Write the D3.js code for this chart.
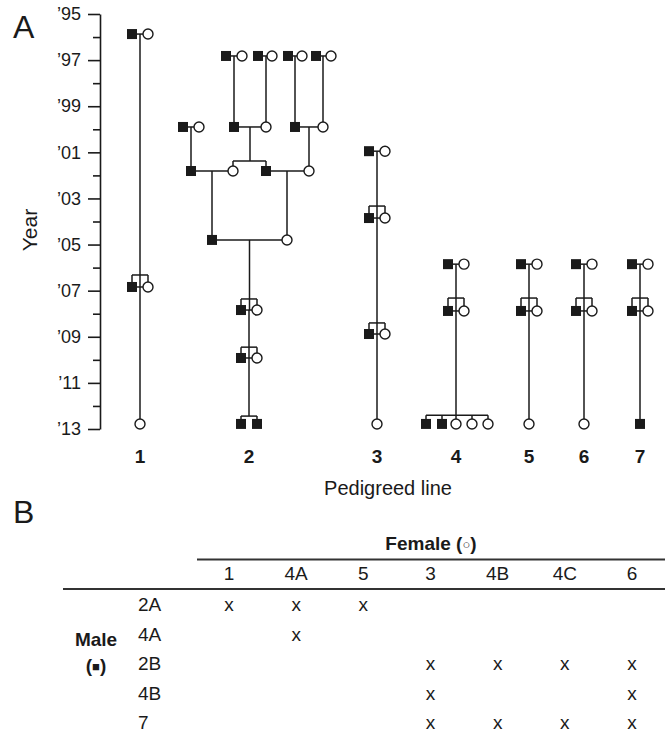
<!DOCTYPE html>
<html><head><meta charset="utf-8">
<script src="https://cdn.jsdelivr.net/npm/d3@7"></script>
<style>body{margin:0;background:#fff}svg{display:block;font-family:"Liberation Sans",Arial,Helvetica,sans-serif}</style>
</head><body><svg id="c" width="672" height="735"></svg>
<script>
// ---------- DATA ----------
const pedigreeLines = ["1","2","3","4","5","6","7"];
const lineCentres = [40,149,277,356,429,484,540]; // horizontal layout units
const majorYears = [1995,1997,1999,2001,2003,2005,2007,2009,2011,2013];
const majorLabels = ["’95","’97","’99","’01","’03","’05","’07","’09","’11","’13"];
const minorYears = [1996,1998,2000,2002,2004,2006,2008,2010,2012];

// [id, pedigree line, sex, offset from line centre (layout units), year]
const individuals = [
  ["1a","1","M",-8,1995.87],["1b","1","F",8,1995.87],
  ["1c","1","M",-8,2006.84],["1d","1","F",8,2006.84],
  ["1e","1","F",0,2012.78],
  ["2a","2","M",-23,1996.82],["2b","2","F",-7,1996.82],
  ["2c","2","M",9,1996.82],["2d","2","F",23,1996.82],
  ["2e","2","M",39,1996.82],["2f","2","F",53,1996.82],
  ["2g","2","M",67,1996.82],["2h","2","F",82,1996.82],
  ["2i","2","M",-66,1999.9],["2j","2","F",-50,1999.9],
  ["2k","2","M",-15,1999.9],["2l","2","F",17,1999.9],
  ["2m","2","M",46,1999.9],["2n","2","F",74,1999.9],
  ["2o","2","M",-58,2001.81],["2p","2","F",-16,2001.81],
  ["2q","2","M",17,2001.81],["2r","2","F",60,2001.81],
  ["2s","2","M",-37,2004.8],["2t","2","F",38,2004.8],
  ["2u","2","M",-8,2007.84],["2v","2","F",8,2007.84],
  ["2w","2","M",-8,2009.92],["2x","2","F",8,2009.92],
  ["2y","2","M",-8,2012.78],["2z","2","M",8,2012.78],
  ["3a","3","M",-8,2000.95],["3b","3","F",8,2000.95],
  ["3c","3","M",-8,2003.85],["3d","3","F",8,2003.85],
  ["3e","3","M",-8,2008.88],["3f","3","F",8,2008.88],
  ["3g","3","F",0,2012.78],
  ["4a","4","M",-8,2005.85],["4b","4","F",8,2005.85],
  ["4c","4","M",-8,2007.88],["4d","4","F",8,2007.88],
  ["4e","4","M",-30,2012.78],["4f","4","M",-14,2012.78],["4g","4","F",0,2012.78],
  ["4h","4","F",16,2012.78],["4i","4","F",32,2012.78],
  ["5a","5","M",-8,2005.85],["5b","5","F",8,2005.85],
  ["5c","5","M",-8,2007.88],["5d","5","F",8,2007.88],
  ["5e","5","F",0,2012.78],
  ["6a","6","M",-8,2005.85],["6b","6","F",8,2005.85],
  ["6c","6","M",-8,2007.88],["6d","6","F",8,2007.88],
  ["6e","6","F",0,2012.78],
  ["7a","7","M",-8,2005.85],["7b","7","F",8,2005.85],
  ["7c","7","M",-8,2007.88],["7d","7","F",8,2007.88],
  ["7e","7","M",0,2012.78]
];
const matings = [
  ["1a","1b"],["1c","1d"],
  ["2a","2b"],["2c","2d"],["2e","2f"],["2g","2h"],["2i","2j"],["2k","2l"],["2m","2n"],
  ["2o","2p"],["2q","2r"],["2s","2t"],["2u","2v"],["2w","2x"],
  ["3a","3b"],["3c","3d"],["3e","3f"],
  ["4a","4b"],["4c","4d"],["5a","5b"],["5c","5d"],["6a","6b"],["6c","6d"],["7a","7b"],["7c","7d"]
];
// parents -> children, optional sibship-line year
const descents = [
  {p:["1a","1b"], c:["1c","1d"], sib:2006.32},
  {p:["1c","1d"], c:["1e"]},
  {p:["2a","2b"], c:["2k"]},{p:["2c","2d"], c:["2l"]},{p:["2e","2f"], c:["2m"]},{p:["2g","2h"], c:["2n"]},
  {p:["2i","2j"], c:["2o"]},
  {p:["2k","2l"], c:["2p","2q"], sib:2001.38},
  {p:["2m","2n"], c:["2r"]},
  {p:["2o","2p"], c:["2s"]},{p:["2q","2r"], c:["2t"]},
  {p:["2s","2t"], c:["2u","2v"], sib:2007.36},
  {p:["2u","2v"], c:["2w","2x"], sib:2009.45},
  {p:["2w","2x"], c:["2y","2z"], sib:2012.44},
  {p:["3a","3b"], c:["3c","3d"], sib:2003.33},
  {p:["3c","3d"], c:["3e","3f"], sib:2008.4},
  {p:["3e","3f"], c:["3g"]},
  {p:["4a","4b"], c:["4c","4d"], sib:2007.32},
  {p:["4c","4d"], c:["4e","4f","4g","4h","4i"], sib:2012.4},
  {p:["5a","5b"], c:["5c","5d"], sib:2007.32},{p:["5c","5d"], c:["5e"]},
  {p:["6a","6b"], c:["6c","6d"], sib:2007.32},{p:["6c","6d"], c:["6e"]},
  {p:["7a","7b"], c:["7c","7d"], sib:2007.32},{p:["7c","7d"], c:["7e"]}
];

// Table B
const femaleCols = ["1","4A","5","3","4B","4C","6"];
const maleRows = ["2A","4A","2B","4B","7"];
const crosses = [
  [1,1,1,0,0,0,0],
  [0,1,0,0,0,0,0],
  [0,0,0,1,1,1,1],
  [0,0,0,1,0,0,1],
  [0,0,0,1,1,1,1]
];

// ---------- DRAW ----------
const svg = d3.select("#c");
const ink = "#1a1a1a";
const x = d3.scaleLinear().domain([0,560]).range([100,660]);
const y = d3.scaleLinear().domain([1995,2013]).range([14,429]);

// panel letters
svg.append("text").attr("x",13).attr("y",38).attr("font-size",32).attr("fill",ink).text("A");
svg.append("text").attr("x",13).attr("y",523).attr("font-size",32).attr("fill",ink).text("B");

// y axis
const gMaj = svg.append("g").attr("transform","translate(100,0)")
  .call(d3.axisLeft(y).tickValues(majorYears).tickSize(12).tickSizeOuter(0).tickPadding(7)
        .tickFormat((d,i)=>majorLabels[i]));
const gMin = svg.append("g").attr("transform","translate(100,0)")
  .call(d3.axisLeft(y).tickValues(minorYears).tickSize(7).tickSizeOuter(0).tickFormat(""));
gMin.select(".domain").remove();
[gMaj,gMin].forEach(g=>{
  g.selectAll("path,line").attr("stroke",ink).attr("stroke-width",1.6);
  g.selectAll("text").attr("font-size",18).attr("fill",ink).attr("font-family","Liberation Sans, Arial, sans-serif");
});
svg.append("text").attr("transform","translate(37,230) rotate(-90)").attr("text-anchor","middle")
  .attr("font-size",21).attr("fill",ink).text("Year");

// x labels
svg.append("g").selectAll("text").data(pedigreeLines).join("text")
  .attr("x",(d,i)=>x(lineCentres[i])).attr("y",463).attr("text-anchor","middle")
  .attr("font-size",19).attr("font-weight","bold").attr("fill",ink).text(d=>d);
svg.append("text").attr("x",388).attr("y",495).attr("text-anchor","middle")
  .attr("font-size",20).attr("fill",ink).text("Pedigreed line");

// pedigree geometry
const byId = new Map(individuals.map(d=>[d[0],{id:d[0],sex:d[2],
  x:x(lineCentres[pedigreeLines.indexOf(d[1])]+d[3]), y:y(d[4])}]));
const isMated=(a,b)=>matings.some(m=>(m[0]===a&&m[1]===b)||(m[0]===b&&m[1]===a));
const segs=[];
matings.forEach(([a,b])=>{const A=byId.get(a),B=byId.get(b);segs.push([A.x,A.y,B.x,B.y]);});
descents.forEach(d=>{
  const P=d.p.map(id=>byId.get(id)), C=d.c.map(id=>byId.get(id));
  const mx=(P[0].x+P[1].x)/2, py=P[0].y;
  if(d.sib==null){ segs.push([C[0].x,py,C[0].x,C[0].y]); }
  else{
    const sy=y(d.sib);
    const through=C.length===2&&isMated(d.c[0],d.c[1]);
    segs.push([mx,py,mx,through?C[0].y:sy]);
    const xs=C.map(c=>c.x).concat([mx]);
    segs.push([d3.min(xs),sy,d3.max(xs),sy]);
    C.forEach(c=>segs.push([c.x,sy,c.x,c.y]));
  }
});
svg.append("g").selectAll("line").data(segs).join("line")
  .attr("x1",d=>d[0]).attr("y1",d=>d[1]).attr("x2",d=>d[2]).attr("y2",d=>d[3])
  .attr("stroke",ink).attr("stroke-width",1.5);
const people=[...byId.values()];
svg.append("g").selectAll("rect").data(people.filter(p=>p.sex==="M")).join("rect")
  .attr("x",d=>d.x-5).attr("y",d=>d.y-5).attr("width",10).attr("height",10).attr("fill",ink);
svg.append("g").selectAll("circle").data(people.filter(p=>p.sex==="F")).join("circle")
  .attr("cx",d=>d.x).attr("cy",d=>d.y).attr("r",5).attr("fill","#fff").attr("stroke",ink).attr("stroke-width",1.4);

// ---------- TABLE ----------
const cx = d3.scalePoint().domain(femaleCols).range([229,632]);
const ry = d3.scalePoint().domain(maleRows).range([611,729]);
const t = svg.append("g").attr("fill",ink).attr("font-size",19);
const fh = t.append("text").attr("x",431).attr("y",550).attr("text-anchor","middle").attr("font-weight","bold");
fh.append("tspan").text("Female (");
fh.append("tspan").attr("font-size",13).attr("font-weight","normal").attr("dy",-1).text("○");
fh.append("tspan").attr("dy",1).text(")");
t.append("line").attr("x1",197).attr("x2",665).attr("y1",559.5).attr("y2",559.5).attr("stroke","#333").attr("stroke-width",2);
t.append("line").attr("x1",63).attr("x2",665).attr("y1",589).attr("y2",589).attr("stroke","#333").attr("stroke-width",2);
t.selectAll("text.col").data(femaleCols).join("text").attr("class","col")
  .attr("x",d=>cx(d)).attr("y",580).attr("text-anchor","middle").text(d=>d);
t.selectAll("text.row").data(maleRows).join("text").attr("class","row")
  .attr("x",138).attr("y",d=>ry(d)).text(d=>d);
t.append("text").attr("x",96).attr("y",646).attr("text-anchor","middle").attr("font-weight","bold").text("Male");
const mh = t.append("text").attr("x",96).attr("y",672).attr("text-anchor","middle").attr("font-weight","bold");
mh.append("tspan").text("(");
mh.append("tspan").attr("font-size",13).attr("dy",-1).text("■");
mh.append("tspan").attr("dy",1).text(")");
const cells=[];
crosses.forEach((r,i)=>r.forEach((v,j)=>{ if(v) cells.push({row:maleRows[i],col:femaleCols[j]}); }));
t.selectAll("text.x").data(cells).join("text").attr("class","x")
  .attr("x",d=>cx(d.col)).attr("y",d=>ry(d.row)).attr("text-anchor","middle").text("x");
</script></body></html>
